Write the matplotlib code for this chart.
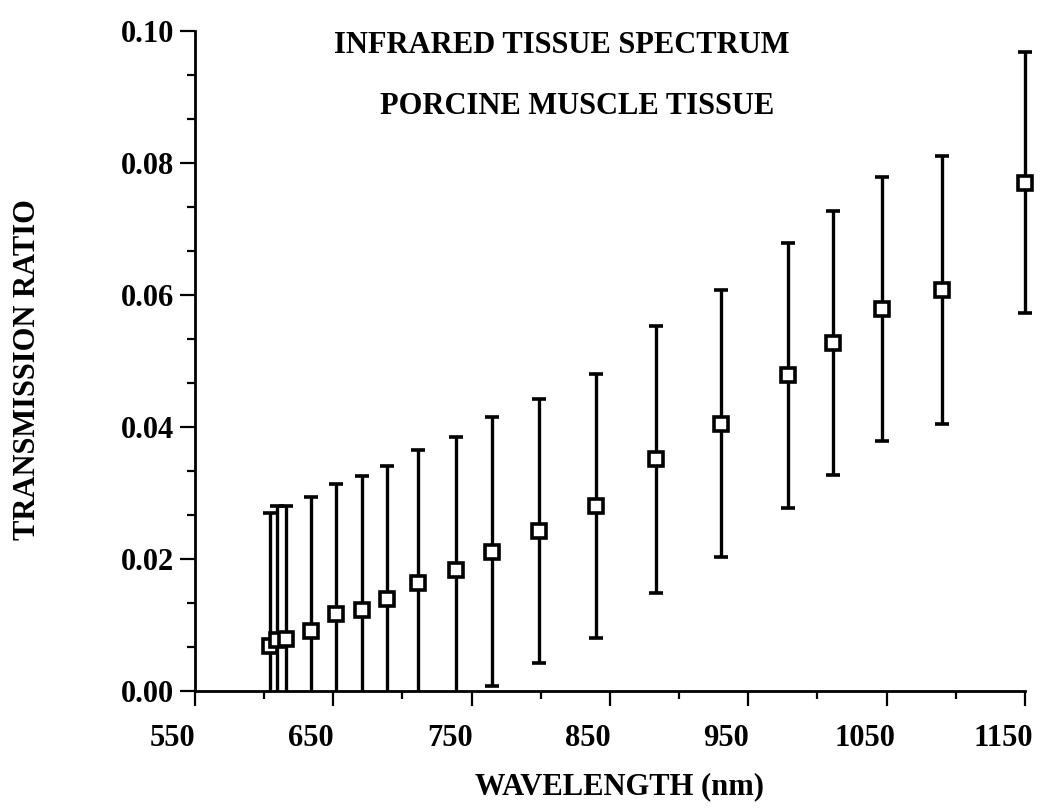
import matplotlib.pyplot as plt
import matplotlib.transforms as mtransforms
from matplotlib.ticker import MultipleLocator, FixedLocator
import numpy as np

# values
wavelength = [604, 609, 616, 634, 652, 671, 689, 711, 739, 765,
              799, 840, 883, 930, 979, 1011, 1047, 1090, 1150]
ratio = [0.0068, 0.0077, 0.0079, 0.0091, 0.0117, 0.0122, 0.0140, 0.0164, 0.0183, 0.0211,
         0.0242, 0.0280, 0.0351, 0.0405, 0.0478, 0.0527, 0.0578, 0.0608, 0.0770]
err = [0.0202, 0.0203, 0.0201, 0.0203, 0.0196, 0.0203, 0.0201, 0.0201, 0.0202, 0.0204,
       0.0200, 0.0200, 0.0202, 0.0202, 0.0201, 0.0200, 0.0200, 0.0203, 0.0198]

xticks = [550, 650, 750, 850, 950, 1050, 1150]
yticks = [0.00, 0.02, 0.04, 0.06, 0.08, 0.10]

plt.rcParams['font.family'] = ['Liberation Serif', 'DejaVu Serif']
plt.rcParams['font.weight'] = 'bold'

fig = plt.figure(figsize=(10.5, 8.11), dpi=100)
# x axis runs a bit past 1150 so the last marker is not cut, spine stops at 1150
ax = fig.add_axes([0.1857, 0.148, 0.8036, 0.8138])

ax.errorbar(wavelength, ratio, yerr=err, fmt='s', color='black',
            ecolor='black', elinewidth=2.4, capsize=4.8, capthick=2.4,
            markersize=9.5, markerfacecolor='white', markeredgecolor='black',
            markeredgewidth=2.6, zorder=3)

ax.set_xlim(550, 1160)
ax.set_ylim(0, 0.10)

ax.spines['top'].set_visible(False)
ax.spines['right'].set_visible(False)
ax.spines['left'].set_linewidth(2)
ax.spines['bottom'].set_linewidth(2)
ax.spines['bottom'].set_bounds(550, 1150)

ax.xaxis.set_major_locator(FixedLocator(xticks))
ax.xaxis.set_minor_locator(FixedLocator(np.arange(600, 1150, 100)))
ax.yaxis.set_major_locator(FixedLocator(yticks))
ax.yaxis.set_minor_locator(MultipleLocator(0.02 / 3))
ax.set_xticklabels([str(t) for t in xticks])
ax.set_yticklabels(['%.2f' % t for t in yticks])

ax.tick_params(which='major', direction='out', length=11, width=1.6, labelsize=22)
ax.tick_params(which='minor', direction='out', length=6, width=1.6)
ax.tick_params(axis='x', which='major', pad=13)
ax.tick_params(axis='y', which='major', pad=4)

# the tick labels on the scan sit a little left of their ticks
shift = mtransforms.ScaledTranslation(-22 / 100, 0, fig.dpi_scale_trans)
for lab in ax.get_xticklabels():
    lab.set_transform(lab.get_transform() + shift)

fig.text(0.535, 0.944, 'INFRARED TISSUE SPECTRUM', ha='center', va='center',
         fontsize=22, fontweight='bold')
fig.text(0.550, 0.869, 'PORCINE MUSCLE TISSUE', ha='center', va='center',
         fontsize=22, fontweight='bold')
fig.text(0.590, 0.030, 'WAVELENGTH (nm)', ha='center', va='center',
         fontsize=22, fontweight='bold')
fig.text(0.026, 0.544, 'TRANSMISSION RATIO', ha='center', va='center',
         rotation=90, fontsize=22, fontweight='bold')

fig.savefig('out.png', dpi=100, facecolor='white')
